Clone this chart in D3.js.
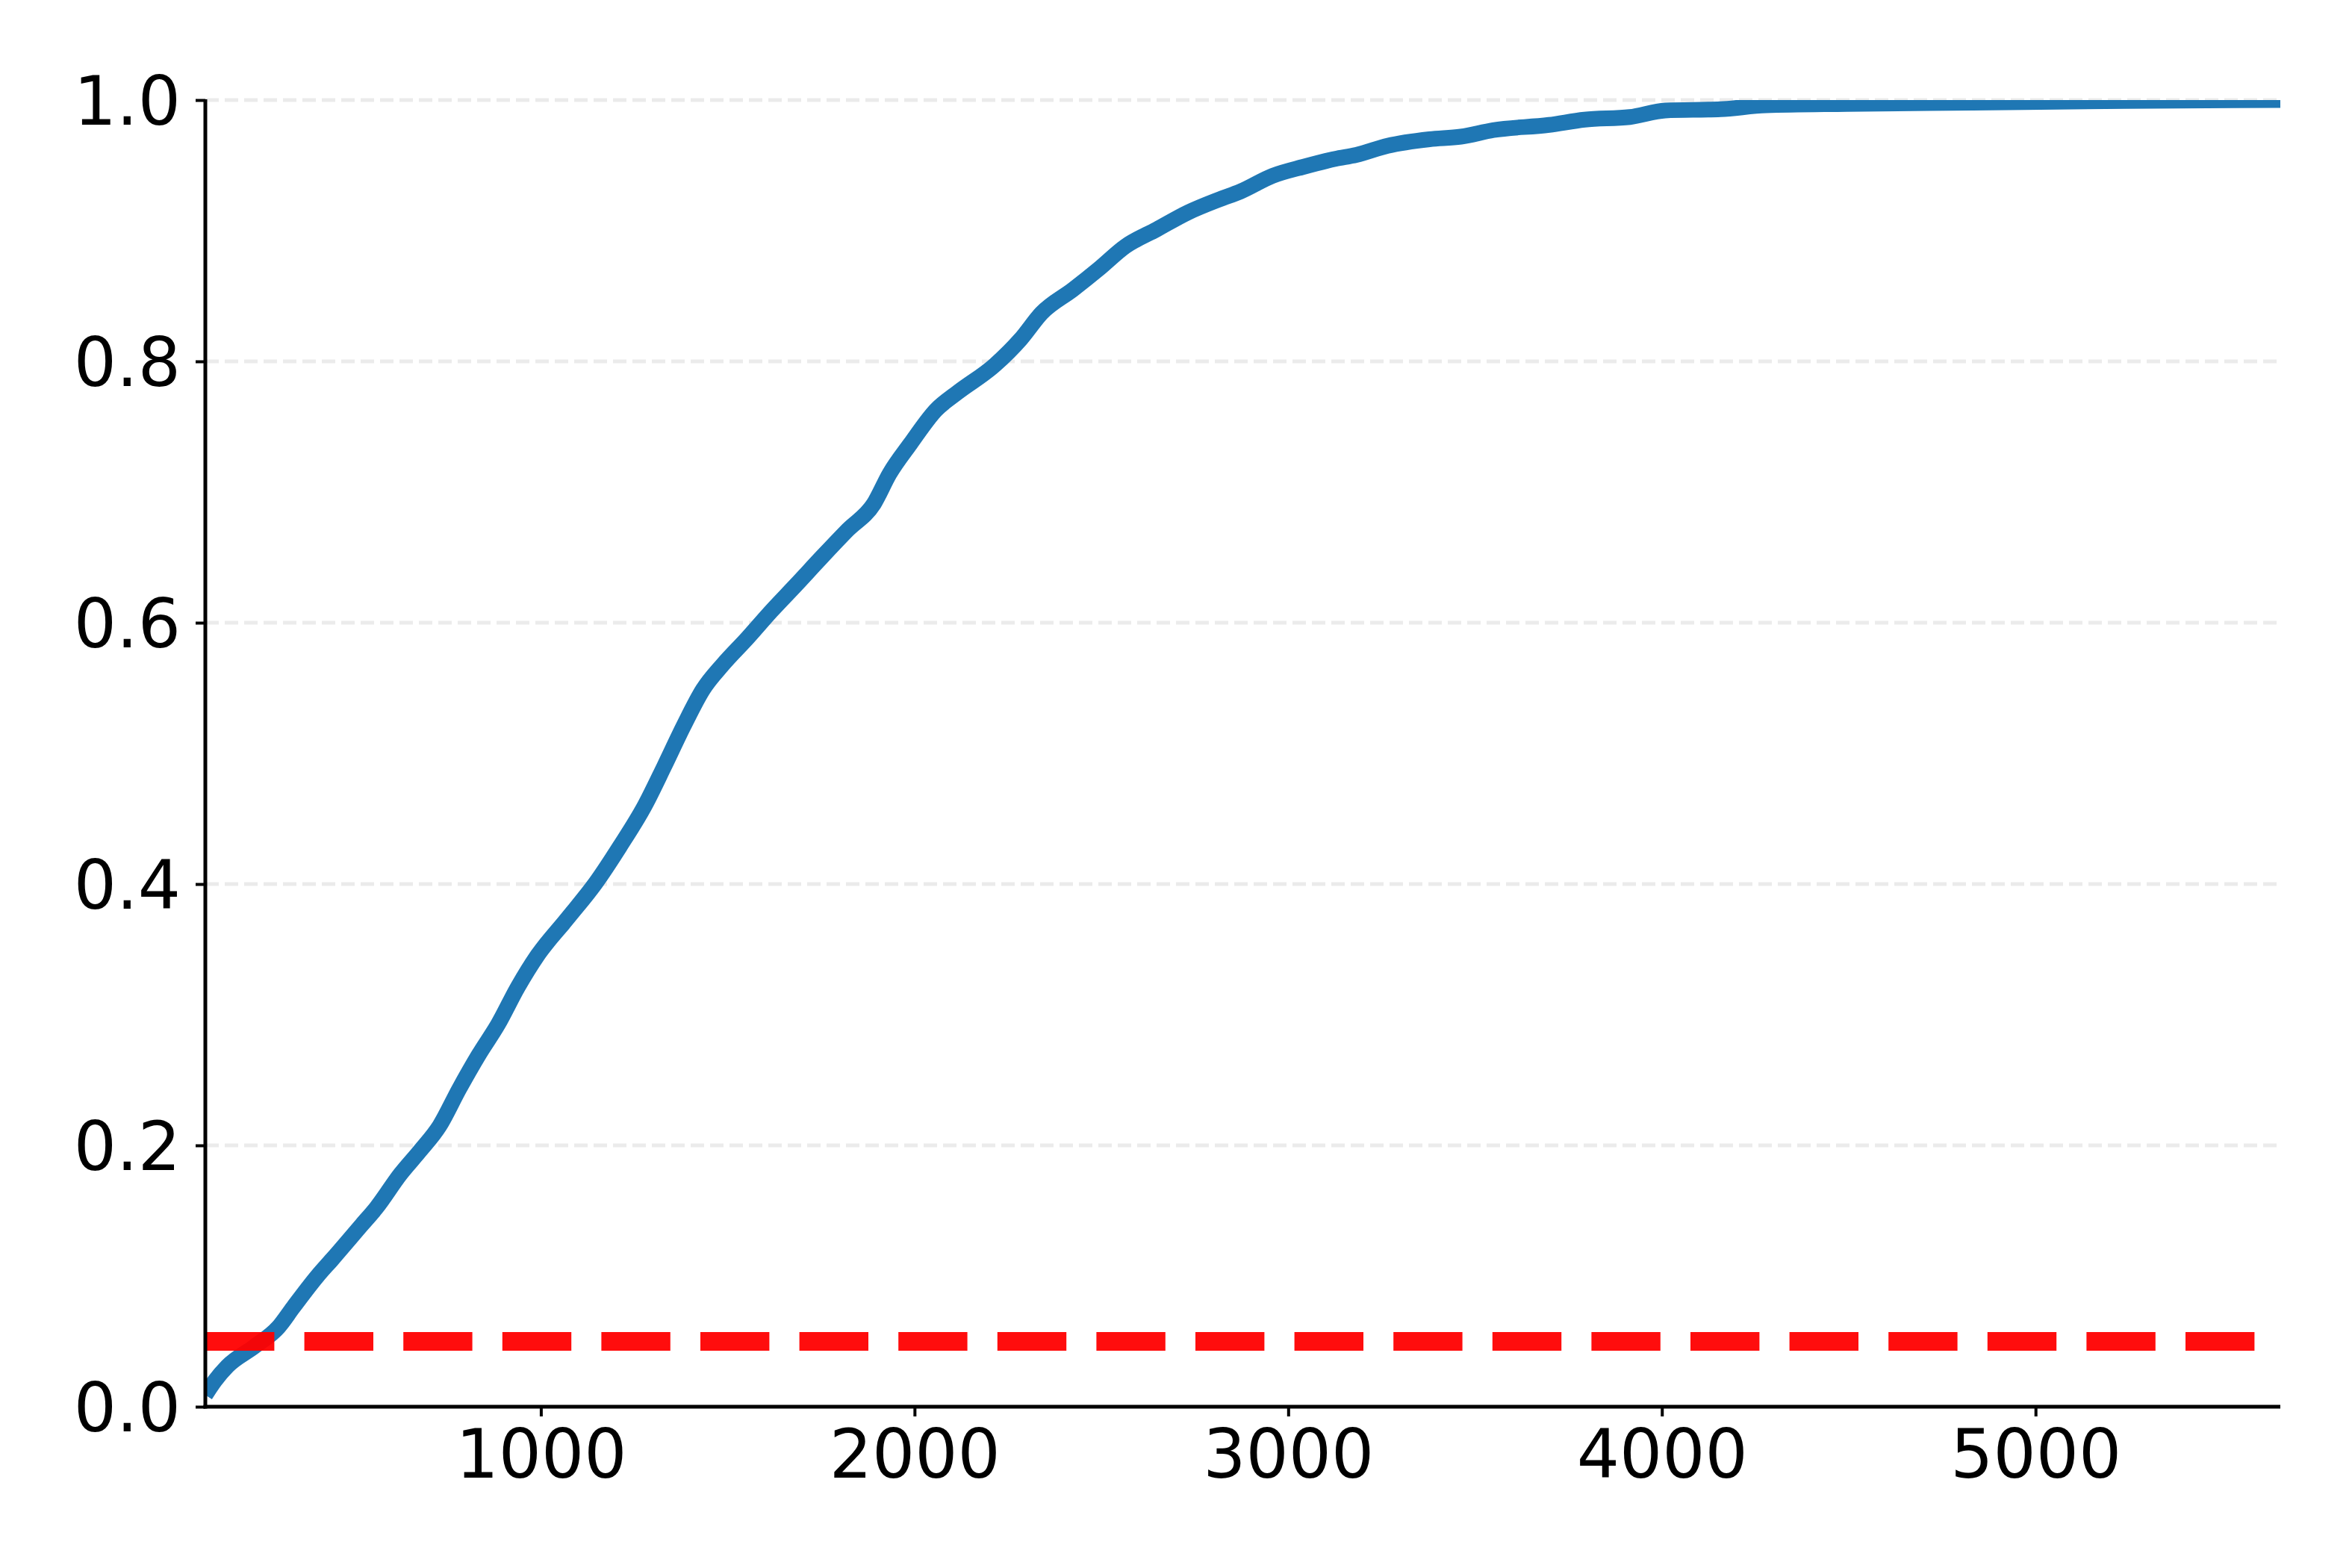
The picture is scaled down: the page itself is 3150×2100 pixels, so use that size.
<!DOCTYPE html>
<html lang="en">
<head>
<meta charset="utf-8">
<title>CDF</title>
<script src="https://cdn.jsdelivr.net/npm/d3@7"></script>
<style>
  body { margin: 0; background: #fff; }
  svg { display: block; }
  .tick text { font-family: "DejaVu Sans", sans-serif; font-size: 90px; fill: #000; }
  .grid line { stroke: #ebebeb; stroke-width: 5; stroke-dasharray: 18 8; }
</style>
</head>
<body>
<script>
// cumulative share
var xVals = [102, 128, 161, 233, 298, 337, 402, 442, 520, 559, 624, 677, 729, 781, 833, 886,
             938, 990, 1069, 1147, 1212, 1278, 1330, 1382, 1434, 1487, 1552, 1617, 1683, 1751,
             1821, 1891, 1933, 1989, 2058, 2114, 2214, 2284, 2340, 2424, 2494, 2564, 2648, 2732,
             2816, 2872, 2958, 3042, 3126, 3182, 3266, 3378, 3462, 3549, 3698, 3793, 3914, 4009,
             4157, 4279, 4494, 4832, 5238, 5655];
var yVals = [0.009, 0.020, 0.031, 0.046, 0.061, 0.076, 0.100, 0.113, 0.139, 0.152, 0.178, 0.196,
             0.215, 0.243, 0.269, 0.293, 0.321, 0.345, 0.373, 0.401, 0.429, 0.460, 0.490, 0.521,
             0.549, 0.568, 0.588, 0.609, 0.629, 0.650, 0.671, 0.691, 0.714, 0.737, 0.763, 0.776,
             0.797, 0.817, 0.837, 0.855, 0.871, 0.888, 0.901, 0.914, 0.924, 0.930, 0.942, 0.949,
             0.955, 0.958, 0.965, 0.970, 0.972, 0.977, 0.981, 0.985, 0.987, 0.992, 0.993, 0.996,
             0.997, 0.998, 0.9993, 1.0];
var threshold = 0.05;
var xTicks = [1000, 2000, 3000, 4000, 5000];
var yTicks = [0.0, 0.2, 0.4, 0.6, 0.8, 1.0];
var gridTicks = [0.2, 0.4, 0.6, 0.8, 1.0];

var width = 3150, height = 2100;
var plotLeft = 275, plotRight = 3054, plotTop = 134, plotBottom = 1884;

var svg = d3.select("body").append("svg")
  .attr("width", width).attr("height", height);

var x = d3.scaleLinear().domain([d3.min(xVals), d3.max(xVals)]).range([plotLeft, plotRight]);
var y = d3.scaleLinear().domain([0, 1]).range([plotBottom, plotTop]);

svg.append("defs").append("clipPath").attr("id", "plot")
  .append("rect").attr("x", plotLeft).attr("y", plotTop)
  .attr("width", plotRight - plotLeft).attr("height", plotBottom - plotTop);

// grid
svg.append("g").attr("class", "grid")
  .selectAll("line").data(gridTicks).enter().append("line")
  .attr("x1", plotLeft).attr("x2", plotRight)
  .attr("y1", function(d){ return y(d); })
  .attr("y2", function(d){ return y(d); });

var pts = xVals.map(function(d, i){ return [d, yVals[i]]; });
var line = d3.line()
  .x(function(d){ return x(d[0]); })
  .y(function(d){ return y(d[1]); })
  .curve(d3.curveMonotoneX);

svg.append("path").datum(pts)
  .attr("clip-path", "url(#plot)")
  .attr("d", line)
  .attr("fill", "none")
  .attr("stroke", "#1f77b4")
  .attr("stroke-width", 21)
  .attr("stroke-linejoin", "round");

svg.append("line")
  .attr("clip-path", "url(#plot)")
  .attr("x1", x(d3.min(xVals))).attr("x2", x(d3.max(xVals)))
  .attr("y1", y(threshold)).attr("y2", y(threshold))
  .attr("stroke", "red").attr("stroke-opacity", 0.95)
  .attr("stroke-width", 25).attr("stroke-dasharray", "92.4 40.2");

// axes
var xAxis = d3.axisBottom(x).tickValues(xTicks).tickSize(13).tickPadding(18)
  .tickFormat(d3.format("d"));
var gx = svg.append("g").attr("transform", "translate(0," + plotBottom + ")").call(xAxis);

var yAxis = d3.axisLeft(y).tickValues(yTicks).tickSize(13).tickPadding(20)
  .tickFormat(d3.format(".1f"));
var gy = svg.append("g").attr("transform", "translate(" + plotLeft + ",0)").call(yAxis);

[gx, gy].forEach(function(g){
  g.select(".domain").remove();
  g.selectAll(".tick line").attr("stroke", "#000").attr("stroke-width", 4);
  g.attr("font-size", null).attr("font-family", null);
});
gy.selectAll(".tick text").attr("dy", "0.36em");

// spines
svg.append("line").attr("x1", plotLeft).attr("x2", plotLeft)
  .attr("y1", plotTop - 1).attr("y2", plotBottom + 2.5)
  .attr("stroke", "#000").attr("stroke-width", 5);
svg.append("line").attr("x1", plotLeft - 2.5).attr("x2", plotRight)
  .attr("y1", plotBottom).attr("y2", plotBottom)
  .attr("stroke", "#000").attr("stroke-width", 5);
</script>
</body>
</html>
